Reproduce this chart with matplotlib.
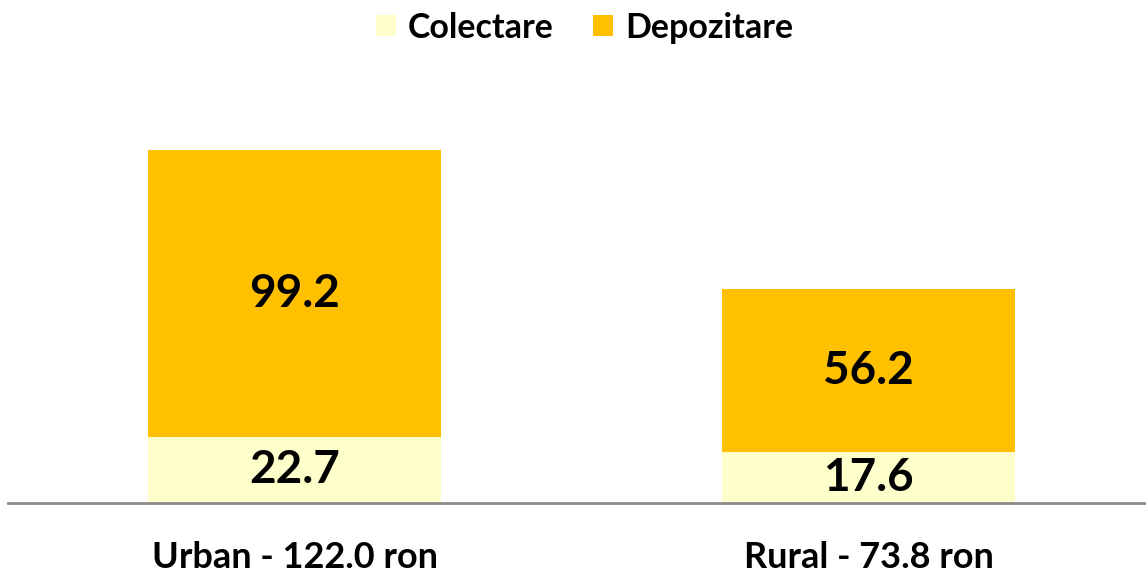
import matplotlib.pyplot as plt

categories = ['Urban - 122.0 ron', 'Rural - 73.8 ron']
colectare = [22.7, 17.6]
depozitare = [99.2, 56.2]

plt.rcParams['font.family'] = ['Lato', 'DejaVu Sans']
plt.rcParams['font.weight'] = 'bold'

fig = plt.figure(figsize=(11.46, 5.74), dpi=100)
# axes bottom sits on the baseline, top chosen so 122 units ~ 353 px
ax = fig.add_axes([8 / 1146, 71 / 574, 1138 / 1146, 443 / 574])

x = range(len(categories))
w = 0.51
b1 = ax.bar(x, colectare, w, color='#FFFFCC', label='Colectare')
b2 = ax.bar(x, depozitare, w, bottom=colectare, color='#FFC000', label='Depozitare')

for bars, vals, base in [(b1, colectare, [0, 0]), (b2, depozitare, colectare)]:
    for bar, v, b0 in zip(bars, vals, base):
        ax.text(bar.get_x() + bar.get_width() / 2, b0 + v / 2, f'{v:.1f}',
                ha='center', va='center', fontsize=33, fontweight='bold')

ax.set_xlim(-0.499, 1.483)
ax.set_ylim(0, 153.1)
ax.set_xticks(list(x))
ax.set_xticklabels(categories, fontsize=26, fontweight='bold')
ax.tick_params(axis='x', length=0, pad=27)
ax.set_yticks([])
for s in ['top', 'right', 'left']:
    ax.spines[s].set_visible(False)
ax.spines['bottom'].set_color('#8C8C8C')
ax.spines['bottom'].set_linewidth(2)

fig.legend(loc='upper center', bbox_to_anchor=(0.51, 1.033), ncol=2, frameon=False,
           handlelength=0.6, handleheight=0.6, handletextpad=0.35,
           columnspacing=1.15, prop={'weight': 'bold', 'size': 24.5})

fig.savefig('out.png', dpi=100)
